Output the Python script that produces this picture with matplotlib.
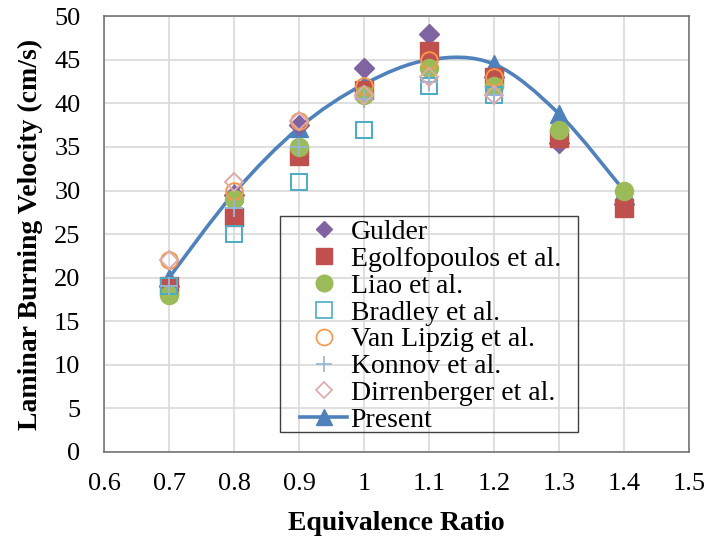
import numpy as np
import matplotlib
matplotlib.use("Agg")
import matplotlib.pyplot as plt
from matplotlib.path import Path
from matplotlib.patches import PathPatch, Rectangle
from matplotlib.lines import Line2D

plt.rcParams['font.family'] = ['Liberation Serif', 'DejaVu Serif']

# equivalence ratio
phi = [0.7, 0.8, 0.9, 1.0, 1.1, 1.2, 1.3, 1.4]

# measured / computed laminar burning velocities (cm/s), nan = no data
gulder = [19, 29.5, 37.5, 44, 48, 43, 35.5, 28.5]
egolfopoulos = [19, 27, 34, 41.5, 46, 43, 36, 28]
liao = [18, 29, 35, 41, 44, 42, 37, 30]
bradley = [19, 25, 31, 37, 42, 41, np.nan, np.nan]
van_lipzig = [22, 30, 38, 42, 45, 43, np.nan, np.nan]
konnov = [19, 28, 35, 40.5, 42.5, 41, np.nan, np.nan]
dirrenberger = [22, 31, 38, 41, 43, 41, np.nan, np.nan]
present = [20, 29.7, 37.2, 42.2, 45, 44.5, 38.8, 30]

labels = ["Gulder", "Egolfopoulos et al.", "Liao et al.", "Bradley et al.",
          "Van Lipzig et al.", "Konnov et al.", "Dirrenberger et al.", "Present"]

blue = '#4F81BD'
purple = '#8064A2'
red = '#C0504D'
green = '#9BBB59'
teal = '#4BACC6'
orange = '#F79646'
lblue = '#95B3D7'
pink = '#E0A9A8'


def smooth_path(x, y):
    # excel style smoothed line: cubic bezier segments through the points
    pts = np.column_stack([x, y]).astype(float)
    n = len(pts)
    verts = [pts[0]]
    codes = [Path.MOVETO]
    for i in range(n - 1):
        p0 = pts[i - 1] if i > 0 else pts[i]
        p1 = pts[i]
        p2 = pts[i + 1]
        p3 = pts[i + 2] if i + 2 < n else pts[i + 1]
        c1 = p1 + (p2 - p0) / 6.0
        c2 = p2 - (p3 - p1) / 6.0
        verts += [c1, c2, p2]
        codes += [Path.CURVE4] * 3
    return Path(verts, codes)


fig = plt.figure(figsize=(7.08, 5.4), dpi=100)
ax = fig.add_axes([0.147, 0.163, 0.826, 0.807])

# present - smooth curve + triangles, drawn under the data
ax.add_patch(PathPatch(smooth_path(phi, present), fill=False, edgecolor=blue,
                       lw=2.6, zorder=2, capstyle='round'))
ax.plot(phi, present, linestyle='none', marker='^', ms=13, color=blue, zorder=2)

ax.plot(phi, gulder, linestyle='none', marker='D', ms=10, color=purple, zorder=3)
ax.plot(phi, egolfopoulos, linestyle='none', marker='s', ms=13, color=red, zorder=3)
ax.plot(phi, liao, linestyle='none', marker='o', ms=13, color=green, zorder=3)
ax.plot(phi, bradley, linestyle='none', marker='s', ms=12, mfc='none',
        mec=teal, mew=1.4, zorder=3)
ax.plot(phi, van_lipzig, linestyle='none', marker='o', ms=12, mfc='none',
        mec=orange, mew=1.4, zorder=3)
ax.plot(phi, konnov, linestyle='none', marker='+', ms=13, color=lblue,
        mew=1.4, zorder=3)
ax.plot(phi, dirrenberger, linestyle='none', marker='D', ms=9.5, mfc='none',
        mec=pink, mew=1.4, zorder=3)

ax.set_xlim(0.6, 1.5)
ax.set_ylim(0, 50)
ax.set_xticks(np.arange(0.6, 1.51, 0.1))
ax.set_xticklabels(['0.6', '0.7', '0.8', '0.9', '1', '1.1', '1.2', '1.3', '1.4', '1.5'])
ax.set_yticks(np.arange(0, 51, 5))

ax.grid(True, color='#D9D9D9', lw=1.2)
ax.set_axisbelow(True)
for s in ax.spines.values():
    s.set_color('#6A6A6A')
    s.set_linewidth(1.1)
ax.tick_params(axis='both', labelsize=19, length=0)
ax.tick_params(axis='x', pad=15)
ax.tick_params(axis='y', pad=17)

ax.set_xlabel('Equivalence Ratio', fontsize=20, fontweight='bold', labelpad=12)
ax.set_ylabel('Laminar Burning Velocity (cm/s)', fontsize=20, fontweight='bold',
              labelpad=8)

handles = [
    Line2D([], [], linestyle='none', marker='D', ms=8.5, color=purple),
    Line2D([], [], linestyle='none', marker='s', ms=12, color=red),
    Line2D([], [], linestyle='none', marker='o', ms=12, color=green),
    Line2D([], [], linestyle='none', marker='s', ms=11.5, mfc='none', mec=teal, mew=1.2),
    Line2D([], [], linestyle='none', marker='o', ms=11.5, mfc='none', mec=orange, mew=1.2),
    Line2D([], [], linestyle='none', marker='+', ms=12, color=lblue, mew=1.2),
    Line2D([], [], linestyle='none', marker='D', ms=8.5, mfc='none', mec=pink, mew=1.2),
    Line2D([], [], color=blue, lw=2.6, marker='^', ms=12),
]
ax.legend(handles, labels, loc='upper left', bbox_to_anchor=(0.335, 0.533),
          fontsize=20, frameon=False, borderpad=0, labelspacing=0.05,
          handlelength=1.7, handletextpad=0.12, borderaxespad=0)

# legend box
ax.add_patch(Rectangle((0.301, 0.046), 0.509, 0.4965, transform=ax.transAxes,
                       facecolor='none', edgecolor='#404040', lw=1.0, zorder=4))

fig.savefig('out.png', dpi=100)
